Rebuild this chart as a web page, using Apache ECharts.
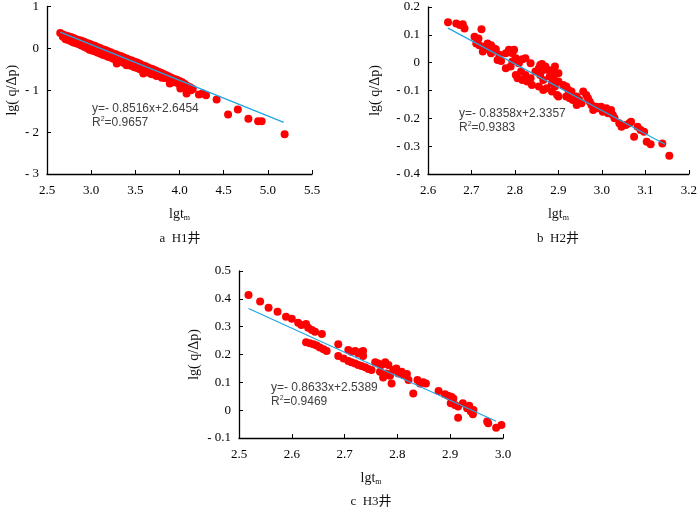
<!DOCTYPE html>
<html>
<head>
<meta charset="utf-8">
<script src="https://cdn.jsdelivr.net/npm/echarts@6/dist/echarts.min.js"></script>
<style>html,body{margin:0;padding:0;background:#fff}#c{width:700px;height:509px}</style>
</head>
<body>
<div id="c"></div>
<script>
// ---- data ----
const h1Points = [
[2.65,0.37],
[2.68,0.33],[2.68,0.28],
[2.71,0.31],[2.71,0.26],[2.71,0.22],
[2.74,0.29],[2.74,0.24],[2.74,0.20],
[2.77,0.27],[2.77,0.22],[2.77,0.17],
[2.80,0.25],[2.80,0.19],[2.80,0.14],
[2.83,0.22],[2.83,0.17],[2.83,0.12],
[2.86,0.20],[2.86,0.15],[2.86,0.10],
[2.89,0.18],[2.89,0.12],[2.89,0.07],
[2.92,0.16],[2.92,0.10],[2.92,0.04],
[2.95,0.13],[2.95,0.08],[2.95,0.01],
[2.98,0.11],[2.98,0.05],[2.98,-0.03],
[3.01,0.08],[3.01,0.02],[3.01,-0.05],
[3.04,0.06],[3.04,0.00],[3.04,-0.07],
[3.07,0.03],[3.07,-0.03],[3.07,-0.10],
[3.10,0.01],[3.10,-0.05],[3.10,-0.12],
[3.13,-0.02],[3.13,-0.08],[3.13,-0.15],
[3.16,-0.04],[3.16,-0.10],[3.16,-0.17],
[3.19,-0.07],[3.19,-0.13],[3.19,-0.20],
[3.22,-0.09],[3.22,-0.15],[3.22,-0.22],
[3.25,-0.12],[3.25,-0.18],[3.25,-0.25],
[3.28,-0.14],[3.28,-0.20],[3.28,-0.28],[3.29,-0.36],
[3.31,-0.17],[3.31,-0.23],[3.31,-0.30],
[3.34,-0.19],[3.34,-0.25],[3.34,-0.32],
[3.37,-0.22],[3.37,-0.28],[3.37,-0.35],[3.40,-0.40],
[3.40,-0.24],[3.40,-0.30],[3.40,-0.36],
[3.43,-0.27],[3.43,-0.33],[3.43,-0.40],
[3.46,-0.29],[3.46,-0.35],[3.46,-0.42],
[3.49,-0.32],[3.49,-0.38],[3.49,-0.45],
[3.52,-0.34],[3.52,-0.40],[3.52,-0.47],
[3.55,-0.37],[3.55,-0.43],[3.55,-0.50],
[3.58,-0.40],[3.58,-0.46],[3.58,-0.52],[3.59,-0.60],
[3.61,-0.42],[3.61,-0.48],[3.61,-0.55],
[3.64,-0.45],[3.64,-0.51],[3.64,-0.57],
[3.67,-0.48],[3.67,-0.54],[3.67,-0.60],
[3.70,-0.50],[3.70,-0.56],[3.69,-0.62],
[3.73,-0.53],[3.73,-0.59],[3.74,-0.66],
[3.76,-0.56],[3.76,-0.62],
[3.79,-0.58],[3.79,-0.64],[3.80,-0.70],
[3.82,-0.61],[3.82,-0.67],[3.83,-0.71],
[3.85,-0.64],[3.85,-0.70],
[3.88,-0.67],[3.88,-0.73],[3.89,-0.84],
[3.91,-0.70],[3.91,-0.76],[3.92,-0.81],
[3.94,-0.73],[3.94,-0.78],
[3.97,-0.75],[3.97,-0.82],
[4.00,-0.78],[4.00,-0.86],[4.01,-0.96],
[4.03,-0.81],[4.03,-0.89],
[4.06,-0.85],[4.06,-0.94],
[4.09,-0.90],[4.08,-1.08],
[4.12,-0.93],[4.13,-1.00],
[4.15,-0.97],
[4.22,-1.10],[4.26,-1.08],[4.30,-1.12],
[4.42,-1.22],[4.55,-1.58],[4.66,-1.46],[4.78,-1.68],[4.89,-1.74],[4.93,-1.74],[5.19,-2.05]
];
const h2Points = [
[2.646,0.145],[2.665,0.141],[2.673,0.135],[2.680,0.138],[2.684,0.123],[2.723,0.120],
[2.707,0.093],[2.716,0.087],[2.711,0.069],[2.718,0.063],[2.730,0.057],[2.737,0.069],
[2.745,0.063],[2.752,0.051],[2.726,0.040],[2.741,0.046],[2.756,0.048],[2.745,0.034],
[2.764,0.028],[2.779,0.034],[2.786,0.046],[2.794,0.034],[2.798,0.046],[2.802,0.016],
[2.760,0.010],[2.768,0.006],[2.779,-0.020],[2.790,-0.014],[2.794,0.004],[2.809,-0.002],
[2.817,0.012],[2.824,0.016],[2.836,-0.002],[2.802,-0.044],[2.806,-0.056],[2.814,-0.032],
[2.817,-0.062],[2.824,-0.044],[2.828,-0.068],[2.836,-0.056],[2.839,-0.080],[2.847,-0.032],
[2.855,-0.020],[2.858,-0.008],[2.862,-0.005],[2.865,-0.026],[2.870,-0.014],[2.877,-0.026],
[2.880,-0.050],[2.889,-0.038],[2.892,-0.014],[2.900,-0.038],[2.889,-0.056],[2.855,-0.086],
[2.865,-0.098],[2.873,-0.092],[2.885,-0.074],[2.892,-0.086],[2.900,-0.068],[2.858,-0.044],
[2.865,-0.062],[2.885,-0.104],[2.897,-0.116],[2.900,-0.122],[2.911,-0.080],[2.918,-0.086],
[2.923,-0.098],[2.930,-0.104],[2.918,-0.122],[2.926,-0.128],[2.933,-0.134],[2.942,-0.122],
[2.948,-0.134],[2.957,-0.104],[2.964,-0.116],[2.968,-0.128],[2.972,-0.140],[2.953,-0.146],
[2.942,-0.152],[2.976,-0.152],[2.980,-0.170],[2.987,-0.158],[2.991,-0.164],[2.998,-0.158],
[3.002,-0.176],[3.010,-0.164],[3.014,-0.182],[3.021,-0.170],[3.025,-0.188],[3.029,-0.200],
[3.040,-0.218],[3.045,-0.230],[3.055,-0.224],[3.063,-0.218],[3.067,-0.212],[3.074,-0.266],
[3.082,-0.230],[3.089,-0.242],[3.097,-0.248],[3.103,-0.284],[3.112,-0.293],[3.139,-0.290],
[3.155,-0.334]
];
const h3Points = [
[2.518,0.414],[2.540,0.390],[2.556,0.368],[2.573,0.354],[2.589,0.336],[2.600,0.328],
[2.612,0.314],[2.618,0.306],[2.627,0.310],[2.631,0.296],[2.638,0.288],[2.644,0.282],
[2.657,0.274],[2.627,0.244],[2.634,0.240],[2.641,0.237],[2.647,0.232],[2.653,0.225],
[2.660,0.219],[2.666,0.213],[2.688,0.237],[2.688,0.195],[2.698,0.186],[2.707,0.216],
[2.713,0.210],[2.720,0.213],[2.726,0.204],[2.732,0.210],[2.735,0.195],[2.735,0.213],
[2.707,0.177],[2.713,0.172],[2.720,0.168],[2.726,0.162],[2.732,0.159],[2.739,0.154],
[2.745,0.148],[2.751,0.144],[2.758,0.172],[2.764,0.168],[2.770,0.162],[2.777,0.172],
[2.783,0.162],[2.767,0.138],[2.773,0.117],[2.779,0.132],[2.786,0.124],[2.789,0.096],
[2.792,0.144],[2.798,0.150],[2.802,0.132],[2.808,0.138],[2.811,0.126],[2.818,0.130],
[2.821,0.108],[2.830,0.060],[2.838,0.108],[2.843,0.096],[2.849,0.100],[2.854,0.096],
[2.878,0.069],[2.890,0.057],[2.896,0.052],[2.902,0.048],[2.906,0.042],[2.901,0.025],
[2.909,0.019],[2.915,0.013],[2.915,-0.027],[2.924,0.025],[2.932,0.007],[2.936,0.016],
[2.939,-0.005],[2.944,0.001],[2.943,-0.015],[2.970,-0.041],[2.972,-0.047],[2.987,-0.063],
[2.997,-0.053]
];
const fitSlope = [-0.8516, -0.8358, -0.8633];
const fitIntercept = [2.6454, 2.3357, 2.5389];
const fitR2 = ['0.9657', '0.9383', '0.9469'];
const captions = ['a  H1井', 'b  H2井', 'c  H3井'];
const xTicks = [[2.5, 5.5, 0.5], [2.6, 3.2, 0.1], [2.5, 3.0, 0.1]];
const yTicks = [[-3, 1, 1], [-0.4, 0.2, 0.1], [-0.1, 0.5, 0.1]];

// ---- layout ----
const grids = [
  {left: 47, top: 6, width: 265, height: 168},
  {left: 428, top: 7, width: 264, height: 167},
  {left: 239, top: 271, width: 264, height: 167}
];
const eqPos = [[92, 110], [459, 115], [271, 389]];
const capPos = [[180, 239], [558, 239], [371, 502]];
const yNameGap = [28, 46, 38];
const serif = '"Liberation Serif", "Times New Roman", "Noto Sans CJK SC", serif';
const sans = '"Liberation Sans", Arial, sans-serif';
const sets = [h1Points, h2Points, h3Points];
const yDec = [0, 1, 1];

function fmtY(d){ return function(v){ if (Math.abs(v) < 1e-9) return '0'; const s = Math.abs(v).toFixed(d); return v < 0 ? '{m|-} ' + s : s; }; }

const axisCommon = {
  axisLine: {show: true, onZero: false, lineStyle: {color: '#000', width: 1.3}},
  axisTick: {show: true, inside: true, length: 4, lineStyle: {color: '#000', width: 1}},
  splitLine: {show: false},
  axisLabel: {fontFamily: serif, fontSize: 13, color: '#000'}
};

const xAxis = [], yAxis = [], series = [], graphic = [];
for (let i = 0; i < 3; i++) {
  xAxis.push(Object.assign({}, axisCommon, {
    type: 'value', gridIndex: i, min: xTicks[i][0], max: xTicks[i][1], interval: xTicks[i][2],
    axisLabel: Object.assign({}, axisCommon.axisLabel, {margin: 10, formatter: v => v.toFixed(1)}),
    name: 'lgt{s|m}', nameLocation: 'middle', nameGap: 32,
    nameTextStyle: {fontFamily: serif, fontSize: 14, color: '#111',
      rich: {s: {fontFamily: serif, fontSize: 8, color: '#111', padding: [8, 0, 0, 0]}}}
  }));
  yAxis.push(Object.assign({}, axisCommon, {
    type: 'value', gridIndex: i, min: yTicks[i][0], max: yTicks[i][1], interval: yTicks[i][2],
    axisLabel: Object.assign({}, axisCommon.axisLabel, {margin: 8, formatter: fmtY(yDec[i]),
      rich: {m: {fontFamily: sans, fontSize: 13, color: '#000'}}}),
    name: 'lg( q/Δp)', nameLocation: 'middle', nameGap: yNameGap[i],
    nameTextStyle: {fontFamily: serif, fontSize: 14, color: '#111'}
  }));
  series.push({
    type: 'scatter', xAxisIndex: i, yAxisIndex: i, data: sets[i],
    symbol: 'circle', symbolSize: 8, itemStyle: {color: '#ff0000', opacity: 1}, z: 2
  });
  const xs = sets[i].map(p => p[0]);
  const x0 = Math.min.apply(null, xs), x1 = Math.max.apply(null, xs) - 0.01;
  series.push({
    type: 'line', xAxisIndex: i, yAxisIndex: i, symbol: 'none', silent: true, z: 3,
    lineStyle: {color: '#1ea6e6', width: 1.2},
    data: [[x0, fitSlope[i] * x0 + fitIntercept[i]], [x1, fitSlope[i] * x1 + fitIntercept[i]]]
  });
  graphic.push({
    type: 'text', left: eqPos[i][0], top: eqPos[i][1] - 7, z: 10,
    style: {text: 'y=- ' + Math.abs(fitSlope[i]).toFixed(4) + 'x+' + fitIntercept[i].toFixed(4),
      font: '12px ' + sans, fill: '#404040'}
  });
  graphic.push({
    type: 'text', left: eqPos[i][0], top: eqPos[i][1] + 6, z: 10,
    style: {text: 'R{sup|2}=' + fitR2[i], font: '12px ' + sans, fill: '#404040',
      rich: {sup: {fontSize: 7, fill: '#404040', padding: [0, 0, 6, 0]}}}
  });
  graphic.push({
    type: 'text', x: capPos[i][0], y: capPos[i][1], z: 10,
    style: {text: captions[i], font: '13px ' + serif, fill: '#111', textAlign: 'center', textVerticalAlign: 'middle'}
  });
}

const chart = echarts.init(document.getElementById('c'));
chart.setOption({
  animation: false,
  backgroundColor: '#fff',
  grid: grids,
  xAxis: xAxis,
  yAxis: yAxis,
  series: series,
  graphic: graphic
});
</script>
</body>
</html>
